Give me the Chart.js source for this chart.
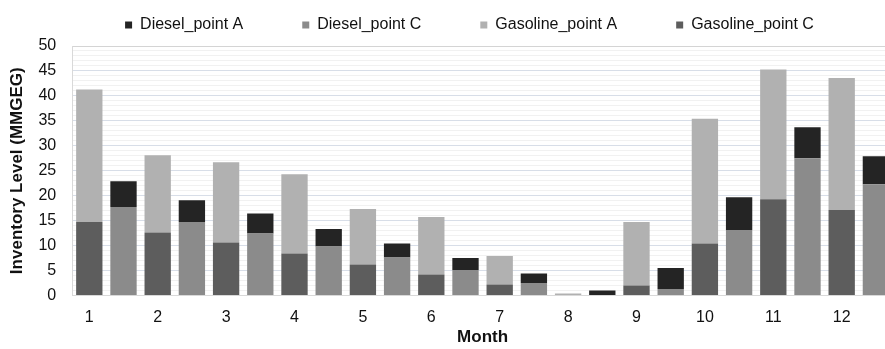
<!DOCTYPE html>
<html>
<head>
<meta charset="utf-8">
<script src="https://cdn.jsdelivr.net/npm/chart.js@4.4.1/dist/chart.umd.min.js"></script>
<style>
html, body { margin: 0; padding: 0; background: #fff; overflow: hidden; }
#wrap { width: 895px; height: 349px; }
</style>
</head>
<body>
<div id="wrap"><canvas id="chart"></canvas></div>
<script>
// Mois (axe X)
const months = ['1', '2', '3', '4', '5', '6', '7', '8', '9', '10', '11', '12'];

// Valeurs (MMGEG)
const gasolineC = [14.7, 12.6, 10.6, 8.4, 6.2, 4.2, 2.2, 0, 2.0, 10.4, 19.3, 17.1];
const gasolineA = [26.6, 15.5, 16.1, 15.9, 11.1, 11.5, 5.7, 0.4, 12.7, 25.0, 26.0, 26.5];
const dieselC = [17.7, 14.7, 12.4, 9.8, 7.6, 5.1, 2.5, 0.1, 1.3, 13.1, 27.5, 22.3];
const dieselA = [5.2, 4.4, 4.0, 3.5, 2.8, 2.4, 1.9, 0.9, 4.2, 6.6, 6.2, 5.6];

// Deux colonnes par mois : essence puis diesel
const labels = months.flatMap(m => [m, '']);
function gasSlots(values) { return values.flatMap(v => [v, null]); }
function dieselSlots(values) { return values.flatMap(v => [null, v]); }

// Décaler la légende comme sur l'original
const legendNudge = {
    id: 'legendNudge',
    afterLayout(chart) {
        const lg = chart.legend;
        lg.left += 23;
        lg.right += 23;
        lg.top -= 3;
        lg.bottom -= 3;
    }
};

const ctx = document.getElementById('chart').getContext('2d');
new Chart(ctx, {
    type: 'bar',
    data: {
        labels: labels,
        datasets: [
            { label: 'Gasoline_point C', data: gasSlots(gasolineC), backgroundColor: '#5d5d5d' },
            { label: 'Gasoline_point A', data: gasSlots(gasolineA), backgroundColor: '#b1b1b1' },
            { label: 'Diesel_point C', data: dieselSlots(dieselC), backgroundColor: '#8b8b8b' },
            { label: 'Diesel_point A', data: dieselSlots(dieselA), backgroundColor: '#242424' }
        ]
    },
    options: {
        responsive: true,
        maintainAspectRatio: false,
        animation: false,
        datasets: {
            bar: { categoryPercentage: 1.0, barPercentage: 0.77 }
        },
        layout: { padding: { top: -39, left: 0, right: 2, bottom: 0 } },
        scales: {
            x: {
                stacked: true,
                grid: { display: false, drawTicks: false },
                border: { display: true, color: '#d9d9d9' },
                ticks: {
                    autoSkip: false,
                    maxRotation: 0,
                    padding: 13,
                    color: '#111',
                    font: { family: "'Liberation Sans', Arial, sans-serif", size: 16 }
                },
                title: {
                    display: true,
                    text: 'Month',
                    color: '#111',
                    padding: { top: -13, bottom: 1 },
                    font: { family: "'Liberation Sans', Arial, sans-serif", size: 17, weight: 'bold' }
                }
            },
            y: {
                stacked: true,
                min: 0,
                max: 50,
                grid: {
                    drawTicks: false,
                    color: function(c) {
                        const v = c.tick.value;
                        if (v === 50) return '#d4d4d4';
                        if (v % 5 === 0) return '#d8dee8';
                        return '#f1f1f1';
                    }
                },
                border: { display: true, color: '#d9d9d9' },
                ticks: {
                    stepSize: 1,
                    autoSkip: false,
                    padding: 16,
                    color: '#111',
                    font: { family: "'Liberation Sans', Arial, sans-serif", size: 16 },
                    callback: function(value) {
                        return value % 5 === 0 ? value : '';
                    }
                },
                title: {
                    display: true,
                    text: 'Inventory Level (MMGEG)',
                    color: '#111',
                    padding: { top: 7, bottom: -5 },
                    font: { family: "'Liberation Sans', Arial, sans-serif", size: 17, weight: 'bold' }
                }
            }
        },
        plugins: {
            legend: {
                display: true,
                position: 'top',
                reverse: true,
                labels: {
                    boxWidth: 7,
                    boxHeight: 7,
                    padding: 59,
                    color: '#111',
                    font: { family: "'Liberation Sans', Arial, sans-serif", size: 16 }
                }
            },
            tooltip: { enabled: false }
        }
    },
    plugins: [legendNudge]
});
</script>
</body>
</html>
